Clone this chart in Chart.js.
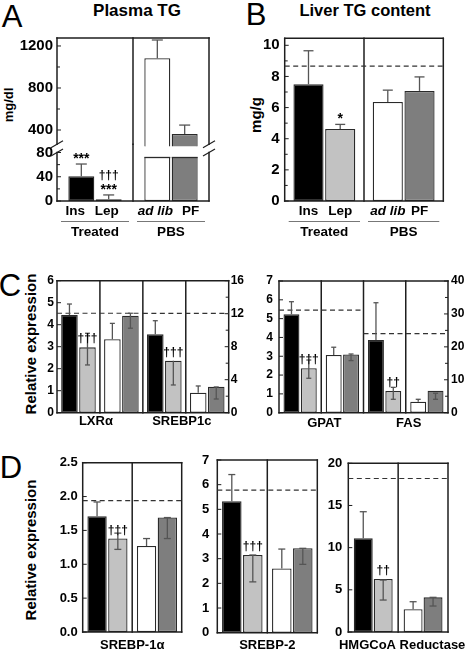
<!DOCTYPE html>
<html>
<head>
<meta charset="utf-8">
<script src="https://cdn.jsdelivr.net/npm/chart.js@4.4.1/dist/chart.umd.min.js"></script>
<style>
	html, body { margin: 0; padding: 0; background: #fff; }
	#page { position: relative; width: 468px; height: 651px; overflow: hidden; font-family: "Liberation Sans", Arial, sans-serif; }
	#page canvas { position: absolute; left: 0; top: 0; }
	.t { position: absolute; transform: translate(-50%, -50%); white-space: nowrap; line-height: 1; color: #000; }
	.b { font-weight: bold; }
	.rot { transform: translate(-50%, -50%) rotate(-90deg); }
</style>
</head>
<body>
<div id="page">
	<div class="t" style="left:12px;top:16px;font-size:31px">A</div>
	<div class="t b" style="left:137px;top:10px;font-size:17px">Plasma TG</div>
	<div class="t" style="left:256px;top:14px;font-size:31px">B</div>
	<div class="t b" style="left:365px;top:10px;font-size:16.5px">Liver TG content</div>
	<div class="t" style="left:10px;top:285px;font-size:31px">C</div>
	<div class="t" style="left:11px;top:467px;font-size:31px">D</div>
	<div class="t b rot" style="left:8px;top:105px;font-size:13px">mg/dl</div>
	<div class="t b rot" style="left:255px;top:115px;font-size:15px">mg/g</div>
	<div class="t b rot" style="left:30px;top:344px;font-size:15px">Relative expression</div>
	<div class="t b rot" style="left:30px;top:550px;font-size:15px">Relative expression</div>
</div>
<script>
const W = 468, H = 651;
const FONT = '"Liberation Sans", Arial, sans-serif';
const INK = '#1e1e1e';
const WHISK = '#555';
const FILL_FIRST = ['#000000', '#ffffff'];	// Ins, ad lib
const FILL_SECOND = ['#c2c2c2', '#7e7e7e'];	// Lep, PF

// ---- data ----
const groups = ['Treated', 'PBS'];
const barNames = ['Ins', 'Lep', 'ad lib', 'PF'];
const italicNames = ['ad lib'];

// A: plasma TG (mg/dl)
const plasmaTG = [41, 3, 1083, 362];
const plasmaTGHi = [61, 10, 1257, 447];
const plasmaTGSig = ['***', '†††\n***', '', ''];
const plasmaHighTicks = [400, 800, 1200];
const plasmaHighMinor = [600, 1000];
const plasmaLowTicks = [0, 40, 80];
const plasmaLowMinor = [20, 60];

// B: liver TG (mg/g)
const liverTG = [7.5, 4.62, 6.36, 7.07];
const liverTGHi = [9.65, 4.92, 7.12, 7.97];
const liverTGSig = ['', '*', '', ''];
const liverTGControl = 8.66;
const liverTicks = [0, 2, 4, 6, 8, 10];
const liverMinor = [1, 3, 5, 7, 9];

// C: relative expression
const lxr = [4.44, 2.97, 3.34, 4.41];
const lxrHi = [4.94, 3.61, 4.06, 4.52];
const lxrLo = [null, 2.17, null, 3.84];
const lxrSig = ['', '†††', '', ''];
const lxrControl = 4.52;

const srebp1c = [9.5, 6.3, 2.42, 3.15];
const srebp1cHi = [11.15, null, 3.24, 3.12];
const srebp1cLo = [null, 3.36, null, 1.66];
const srebp1cSig = ['', '†††', '', ''];
const srebp1cControl = 12.05;

const gpat = [5.23, 2.36, 3.07, 3.1];
const gpatHi = [5.9, 2.8, 3.48, 3.12];
const gpatLo = [null, 1.83, null, 2.77];
const gpatSig = ['', '†††', '', ''];
const gpatControl = 5.45;

const fas = [22.1, 6.6, 3.35, 6.7];
const fasHi = [33.4, 7.7, 4.07, 5.9];
const fasLo = [null, 4.07, null, 4.07];
const fasSig = ['', '††', '', ''];
const fasControl = 24;

const cLeftTicks = [0, 1, 2, 3, 4, 5, 6];
const cLeftRightTicks = [0, 4, 8, 12, 16];
const cLeftRightMinor = [2, 6, 10, 14];
const cRightTicks = [0, 1, 2, 3, 4, 5, 6, 7];
const cRightRightTicks = [0, 10, 20, 30, 40];
const cRightRightMinor = [5, 15, 25, 35];

// D: relative expression
const srebp1a = [1.71, 1.38, 1.27, 1.69];
const srebp1aHi = [1.92, 1.46, 1.38, 1.69];
const srebp1aLo = [null, 1.22, null, 1.38];
const srebp1aSig = ['', '†††', '', ''];
const srebp1aControl = 1.94;

const srebp2 = [5.33, 3.15, 2.6, 3.42];
const srebp2Hi = [6.41, 3.15, 3.39, 3.42];
const srebp2Lo = [null, 2.06, null, 2.77];
const srebp2Sig = ['', '†††', '', ''];
const srebp2Control = 5.78;

const hmgcr = [11.1, 6.28, 2.69, 4.11];
const hmgcrHi = [14.26, 6.16, 3.59, 4.11];
const hmgcrLo = [null, 3.79, null, 3.08];
const hmgcrSig = ['', '††', '', ''];
const hmgcrControl = 18.2;

const dLeftTicks = [0, 0.5, 1, 1.5, 2, 2.5];
const dMidTicks = [0, 1, 2, 3, 4, 5, 6, 7];
const dRightTicks = [0, 5, 10, 15, 20];

// ---- drawing ----
function line(ctx, x0, y0, x1, y1) {
	ctx.beginPath();
	ctx.moveTo(x0, y0);
	ctx.lineTo(x1, y1);
	ctx.stroke();
}

function yScale(ax, position) {
	return {
		type: 'linear',
		position,
		min: ax.min,
		max: ax.max,
		grid: { display: false, drawTicks: false },
		border: { display: false },
		ticks: {
			autoSkip: false,
			color: '#000',
			padding: ax.pad,
			font: { family: FONT, size: ax.font, weight: 'bold' },
			callback: (v) => (ax.fmt ? ax.fmt(v) : String(v)),
		},
		afterBuildTicks: (s) => { s.ticks = ax.ticks.map((v) => ({ value: v })); },
		afterFit: (s) => { s.width = ax.width; },
	};
}

function decoPlugin(cfg, nCat) {
	return {
		id: 'deco',
		afterDatasetsDraw(chart) {
			const ctx = chart.ctx;
			const a = chart.chartArea;
			const xs = chart.scales.x;
			const bound = (i) => i <= 0 ? a.left : i >= nCat ? a.right : (xs.getPixelForValue(i - 1) + xs.getPixelForValue(i)) / 2;
			ctx.save();

			// frame and dividers
			ctx.strokeStyle = INK;
			ctx.lineWidth = 1.5;
			ctx.lineCap = 'square';
			line(ctx, a.left, a.top, a.left, a.bottom);
			line(ctx, a.right, a.top, a.right, a.bottom);
			if (cfg.frameTop !== false) line(ctx, a.left, a.top, a.right, a.top);
			if (cfg.frameBottom !== false) line(ctx, a.left, a.bottom, a.right, a.bottom);
			for (let i = 1; i < nCat; i++) line(ctx, bound(i), a.top - (cfg.dividerReach || 0), bound(i), a.bottom);
			ctx.lineCap = 'butt';

			// inside tick marks
			ctx.lineWidth = 1;
			[['y', cfg.y], ['y2', cfg.y2]].forEach(([id, ax]) => {
				if (!ax) return;
				const ys = chart.scales[id];
				const x0 = id === 'y' ? a.left : a.right;
				const dir = id === 'y' ? 1 : -1;
				ax.ticks.forEach((v) => { const y = ys.getPixelForValue(v); line(ctx, x0, y, x0 + dir * 4, y); });
				(ax.minor || []).forEach((v) => { const y = ys.getPixelForValue(v); line(ctx, x0, y, x0 + dir * 3, y); });
			});

			// break marks
			if (cfg.breakAt) {
				const y = cfg.breakAt === 'top' ? a.top : a.bottom;
				ctx.lineWidth = 1.2;
				[a.left, a.right].forEach((x) => line(ctx, x - 6, y + 3.5, x + 6, y - 3.5));
			}

			// control (dashed) lines
			ctx.strokeStyle = '#333';
			ctx.lineWidth = 1.2;
			ctx.setLineDash([5, 3.5]);
			cfg.genes.forEach((g, gi) => {
				if (g.ref == null) return;
				const y = chart.scales[g.axis || 'y'].getPixelForValue(g.ref);
				line(ctx, bound(gi * 2), y, bound(gi * 2 + 2), y);
			});
			ctx.setLineDash([]);

			// whiskers, cut tops, significance marks, bar names
			ctx.textAlign = 'center';
			chart.data.datasets.forEach((ds, di) => {
				const meta = chart.getDatasetMeta(di);
				const ys = chart.scales[ds.yAxisID];
				meta.data.forEach((bar, c) => {
					const v = ds.data[c];
					if (v == null) return;
					const half = bar.width / 2;
					if (cfg.barLabels) {
						const name = ds.names[c];
						const nudge = cfg.labelNudge ? cfg.labelNudge[barNames.indexOf(name)] : 0;
						ctx.fillStyle = '#000';
						ctx.textBaseline = 'middle';
						ctx.font = (italicNames.includes(name) ? 'italic ' : '') + 'bold 13.5px ' + FONT;
						ctx.fillText(name, bar.x + nudge, a.bottom + 10.5);
					}
					if (v > ys.max) {
						ctx.strokeStyle = '#2a2a2a';
						ctx.lineWidth = 1.3;
						line(ctx, bar.x - half, a.top + cfg.cutInset, bar.x + half, a.top + cfg.cutInset);
						return;
					}
					const hi = ds.hi[c], lo = ds.lo[c];
					const yTop = ys.getPixelForValue(hi ?? v);
					const yBot = ys.getPixelForValue(lo ?? v);
					ctx.strokeStyle = WHISK;
					ctx.lineWidth = 1.3;
					if (hi != null || lo != null) line(ctx, bar.x, yTop, bar.x, yBot);
					if (hi != null) line(ctx, bar.x - cfg.cap / 2, yTop, bar.x + cfg.cap / 2, yTop);
					if (lo != null) line(ctx, bar.x - cfg.cap / 2, yBot, bar.x + cfg.cap / 2, yBot);
					if (ds.sig[c]) {
						let y = cfg.sigOnWhisker ? Math.min(yTop, bar.y) - 1 : bar.y - 5;
						ctx.fillStyle = '#000';
						ctx.textBaseline = 'alphabetic';
						ds.sig[c].split('\n').reverse().forEach((row) => {
							ctx.font = row.includes('*') ? 'bold 14px ' + FONT : 'bold 12px ' + FONT;
							ctx.fillText(row, bar.x, y);
							y -= 14.5;
						});
					}
				});
			});

			// group lines (A, B)
			if (cfg.barLabels) {
				ctx.fillStyle = '#000';
				ctx.textBaseline = 'middle';
				ctx.font = 'bold 13.5px ' + FONT;
				groups.forEach((grp, c) => {
					const x0 = bound(c) + 4, x1 = bound(c + 1) - 4;
					ctx.strokeStyle = '#777';
					ctx.lineWidth = 1;
					line(ctx, x0, a.bottom + 20.5, x1, a.bottom + 20.5);
					ctx.fillText(grp, (x0 + x1) / 2, a.bottom + 31.5);
				});
			}

			// gene names (C, D)
			if (cfg.geneLabelGap != null) {
				ctx.fillStyle = '#000';
				ctx.textBaseline = 'middle';
				ctx.font = 'bold 13px ' + FONT;
				cfg.genes.forEach((g, gi) => {
					ctx.fillText(g.label, (bound(gi * 2) + bound(gi * 2 + 2)) / 2 + (cfg.geneNudge || 0), a.bottom + cfg.geneLabelGap);
				});
			}
			ctx.restore();
		},
	};
}

function barChart(cfg) {
	const canvas = document.createElement('canvas');
	canvas.width = W;
	canvas.height = H;
	document.getElementById('page').appendChild(canvas);

	const [l, t, r, b] = cfg.area;
	const nCat = cfg.genes.length * 2;
	const labels = [];
	cfg.genes.forEach((g) => groups.forEach((grp) => labels.push(g.label + ' ' + grp)));

	const datasets = [];
	cfg.genes.forEach((g, gi) => {
		[0, 1].forEach((p) => {
			const data = [], hi = [], lo = [], sig = [], names = [], colors = [];
			for (let c = 0; c < nCat; c++) {
				const grp = c % 2;
				const k = grp * 2 + p;
				const own = Math.floor(c / 2) === gi;
				const axis = g.axis === 'y2' ? cfg.y2 : cfg.y;
				let v = own ? g.values[k] : null;
				if (v != null && v < axis.min) v = null;
				data.push(v);
				hi.push(own && g.hi ? g.hi[k] : null);
				lo.push(own && g.lo ? g.lo[k] : null);
				sig.push(own && g.sig ? g.sig[k] : '');
				names.push(barNames[k]);
				colors.push(p === 0 ? FILL_FIRST[grp] : FILL_SECOND[grp]);
			}
			datasets.push({
				data, hi, lo, sig, names,
				backgroundColor: colors,
				borderColor: '#2a2a2a',
				borderWidth: 1.3,
				borderSkipped: false,
				yAxisID: g.axis || 'y',
				skipNull: true,
				categoryPercentage: cfg.catPct,
				barPercentage: cfg.barPct,
				clip: cfg.clip ?? 2,
			});
		});
	});

	const scales = {
		x: { type: 'category', display: false, offset: true },
		y: yScale(cfg.y, 'left'),
	};
	if (cfg.y2) scales.y2 = yScale(cfg.y2, 'right');

	return new Chart(canvas, {
		type: 'bar',
		data: { labels, datasets },
		options: {
			responsive: false,
			animation: false,
			devicePixelRatio: 1,
			events: [],
			layout: {
				padding: {
					left: l - cfg.y.width,
					right: W - r - (cfg.y2 ? cfg.y2.width : 0),
					top: t,
					bottom: H - b,
				},
			},
			plugins: { legend: { display: false }, tooltip: { enabled: false }, title: { display: false } },
			scales,
		},
		plugins: [decoPlugin(cfg, nCat)],
	});
}

// A, upper segment
barChart({
	area: [57, 38, 209, 144.3],
	genes: [{ label: '', values: plasmaTG, hi: plasmaTGHi }],
	y: { min: 264, max: 1276, ticks: plasmaHighTicks, minor: plasmaHighMinor, font: 15, width: 41, pad: 4 },
	frameBottom: false,
	breakAt: 'bottom',
	catPct: 0.72, barPct: 0.95, cap: 11,
});

// A, lower segment
barChart({
	area: [57, 152.5, 209, 201],
	genes: [{ label: '', values: plasmaTG, hi: plasmaTGHi, sig: plasmaTGSig }],
	y: { min: 0, max: 80, ticks: plasmaLowTicks, minor: plasmaLowMinor, font: 15, width: 41, pad: 4 },
	frameTop: false,
	breakAt: 'top',
	dividerReach: 8.2,
	clip: { left: 2, top: -5, right: 2, bottom: 2 },
	cutInset: 5,
	barLabels: true,
	labelNudge: [-6, -2, -2, 6],
	sigOnWhisker: true,
	catPct: 0.72, barPct: 0.95, cap: 11,
});

// B
barChart({
	area: [284.7, 38.3, 443.3, 201],
	genes: [{ label: '', values: liverTG, hi: liverTGHi, sig: liverTGSig, ref: liverTGControl }],
	y: { min: 0, max: 10.45, ticks: liverTicks, minor: liverMinor, font: 15, width: 30, pad: 5 },
	barLabels: true,
	sigOnWhisker: true,
	catPct: 0.8, barPct: 0.95, cap: 10,
});

// C, left
barChart({
	area: [57, 280.7, 228.7, 412.7],
	genes: [
		{ label: 'LXRα', values: lxr, hi: lxrHi, lo: lxrLo, sig: lxrSig, ref: lxrControl, axis: 'y' },
		{ label: 'SREBP1c', values: srebp1c, hi: srebp1cHi, lo: srebp1cLo, sig: srebp1cSig, ref: srebp1cControl, axis: 'y2' },
	],
	y: { min: 0, max: 6, ticks: cLeftTicks, font: 12, width: 20, pad: 3 },
	y2: { min: 0, max: 16, ticks: cLeftRightTicks, minor: cLeftRightMinor, font: 12, width: 18, pad: 2 },
	geneLabelGap: 9,
	geneNudge: -4,
	catPct: 0.84, barPct: 0.92, cap: 5,
});

// C, right
barChart({
	area: [279, 281, 448, 412.7],
	genes: [
		{ label: 'GPAT', values: gpat, hi: gpatHi, lo: gpatLo, sig: gpatSig, ref: gpatControl, axis: 'y' },
		{ label: 'FAS', values: fas, hi: fasHi, lo: fasLo, sig: fasSig, ref: fasControl, axis: 'y2' },
	],
	y: { min: 0, max: 7, ticks: cRightTicks, font: 12, width: 20, pad: 6 },
	y2: { min: 0, max: 40, ticks: cRightRightTicks, minor: cRightRightMinor, font: 12, width: 20, pad: 3 },
	geneLabelGap: 11,
	geneNudge: 3,
	catPct: 0.82, barPct: 0.92, cap: 5,
});

// D
barChart({
	area: [82.7, 462.7, 181.7, 632],
	genes: [{ label: 'SREBP-1α', values: srebp1a, hi: srebp1aHi, lo: srebp1aLo, sig: srebp1aSig, ref: srebp1aControl }],
	y: { min: 0, max: 2.5, ticks: dLeftTicks, font: 13, width: 28, pad: 5, fmt: (v) => v.toFixed(1) },
	geneLabelGap: 13,
	catPct: 0.84, barPct: 0.93, cap: 7,
});

barChart({
	area: [217.3, 460, 317.3, 632.7],
	genes: [{ label: 'SREBP-2', values: srebp2, hi: srebp2Hi, lo: srebp2Lo, sig: srebp2Sig, ref: srebp2Control }],
	y: { min: 0, max: 7, ticks: dMidTicks, font: 13, width: 20, pad: 8 },
	geneLabelGap: 12.5,
	catPct: 0.84, barPct: 0.93, cap: 7,
});

barChart({
	area: [348.3, 463.3, 448, 632],
	genes: [{ label: 'HMGCoA Reductase', values: hmgcr, hi: hmgcrHi, lo: hmgcrLo, sig: hmgcrSig, ref: hmgcrControl }],
	y: { min: 0, max: 20, ticks: dRightTicks, font: 13, width: 24, pad: 6 },
	geneLabelGap: 13,
	geneNudge: 4,
	catPct: 0.8, barPct: 0.95, cap: 7,
});
</script>
</body>
</html>
